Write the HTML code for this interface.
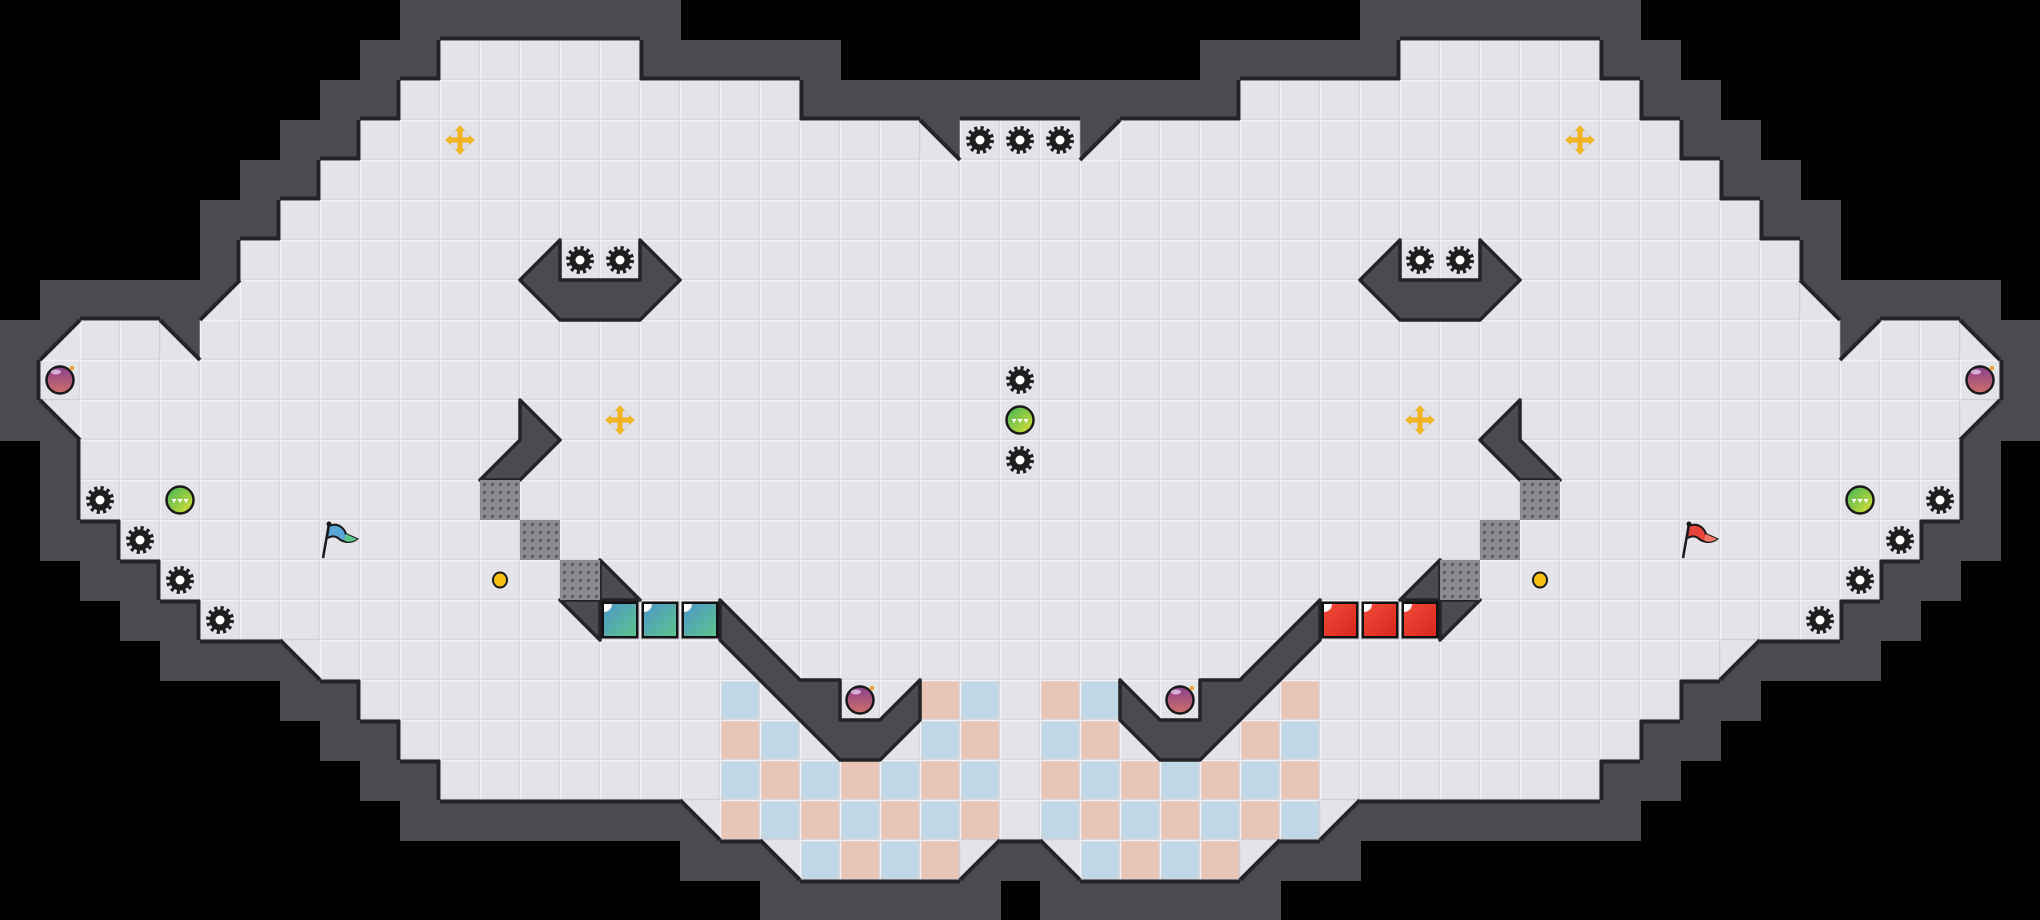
<!DOCTYPE html>
<html><head><meta charset="utf-8"><style>
html,body{margin:0;padding:0;background:#000;width:2040px;height:920px;overflow:hidden}
svg{display:block}
</style></head><body>
<svg id="s" width="2040" height="920" viewBox="0 0 2040 920" xmlns="http://www.w3.org/2000/svg">
<defs>
<linearGradient id="teal" x1="0" y1="0" x2="1" y2="1"><stop offset="0" stop-color="#4f96c8"/><stop offset="1" stop-color="#5cc48c"/></linearGradient>
<linearGradient id="red" x1="0" y1="0" x2="1" y2="1"><stop offset="0" stop-color="#f04a3a"/><stop offset="1" stop-color="#d8281f"/></linearGradient>
<linearGradient id="grn" x1="0" y1="0" x2="1" y2="1"><stop offset="0" stop-color="#3cb45a"/><stop offset="1" stop-color="#e0e030"/></linearGradient>
<linearGradient id="pur" x1="0" y1="0" x2="0" y2="1"><stop offset="0" stop-color="#8a3f8c"/><stop offset="1" stop-color="#d0706a"/></linearGradient>
<pattern id="grate" width="8" height="8" patternUnits="userSpaceOnUse"><rect width="8" height="8" fill="#8c8c90"/><rect x="3" y="3" width="3" height="3" fill="#5e5e62"/></pattern>
</defs>
<rect width="2040" height="920" fill="#000"/>
<g id="g"></g>
</svg>
<script>
var T=40,W=51,H=23;
var F=[];for(var r=0;r<H;r++){F.push([]);for(var c=0;c<W;c++)F[r].push(0);}
function rng(r,a,b){for(var c=a;c<=b;c++)F[r][c]=1;}
var rows={1:[[11,15],[35,39]],2:[[10,19],[31,40]],3:[[9,22],[24,26],[28,41]],4:[[8,42]],5:[[7,43]],6:[[6,44]],7:[[6,44]],
8:[[2,3],[5,45],[47,48]],9:[[1,49]],10:[[2,48]],11:[[2,48]],12:[[2,48]],13:[[3,47]],14:[[4,46]],15:[[5,45]],16:[[8,42]],
17:[[9,41]],18:[[10,40]],19:[[11,39]],20:[[18,32]],21:[[20,23],[27,30]]};
for(var k in rows)rows[k].forEach(function(p){rng(+k,p[0],p[1]);});
var tris=[[3,23,'LL'],[3,27,'LR'],[7,5,'LR'],[7,45,'LL'],[8,1,'LR'],[8,4,'LL'],[8,46,'LR'],[8,49,'LL'],[10,1,'UR'],[10,49,'UL'],
[16,7,'UR'],[16,43,'UL'],[20,17,'UR'],[20,33,'UL'],[21,19,'UR'],[21,24,'UL'],[21,26,'UR'],[21,31,'UL']];
var T2={};tris.forEach(function(t){T2[t[0]+','+t[1]]=1;});
var o='';
var WALL='#4b4a50',EDGE='#242327';
for(var r=0;r<H;r++)for(var c=0;c<W;c++){
 if(F[r][c])continue;var w=0;
 for(var dr=-1;dr<=1;dr++)for(var dc=-1;dc<=1;dc++){var rr=r+dr,cc=c+dc;
  if(rr>=0&&rr<H&&cc>=0&&cc<W){if(F[rr][cc])w=1;else if(T2[rr+','+cc]&&(dr==0||dc==0))w=1;}}
 if(r==22&&c==25)w=0;
 if(w)o+='<rect x="'+(c*T)+'" y="'+(r*T)+'" width="41" height="41" fill="'+WALL+'"/>';
}
var FL='#e3e3e8';
for(var r=0;r<H;r++)for(var c=0;c<W;c++)if(F[r][c]){
 o+='<rect x="'+(c*T)+'" y="'+(r*T)+'" width="40" height="40" fill="'+FL+'"/>';
}
function triPts(r,c,k){var x=c*T,y=r*T,X=x+T,Y=y+T;
 if(k=='LL')return x+','+y+' '+x+','+Y+' '+X+','+Y;
 if(k=='LR')return X+','+y+' '+X+','+Y+' '+x+','+Y;
 if(k=='UL')return x+','+y+' '+X+','+y+' '+x+','+Y;
 return x+','+y+' '+X+','+y+' '+X+','+Y;}
tris.forEach(function(t){o+='<polygon points="'+triPts(t[0],t[1],t[2])+'" fill="'+FL+'"/>';});
var chk={17:[18,23,24,26,27,32],18:[18,19,23,24,26,27,31,32],19:[18,19,20,21,22,23,24,26,27,28,29,30,31,32],
20:[18,19,20,21,22,23,24,26,27,28,29,30,31,32],21:[20,21,22,23,27,28,29,30]};
for(var k in chk)chk[k].forEach(function(c){var r=+k;var odd=(r+c)%2==1;var blue=c<25?odd:!odd;
 o+='<rect x="'+(c*T)+'" y="'+(r*T)+'" width="40" height="40" fill="'+(blue?'#c2d7e6':'#e8c5b7')+'"/>';});
for(var r=0;r<H;r++)for(var c=0;c<W;c++)if(F[r][c]){var x=c*T,y=r*T;
 o+='<path d="M'+(x+0.5)+' '+(y+39.5)+'V'+(y+0.5)+'H'+(x+39.5)+'" stroke="#f2f2f5" stroke-width="1.5" fill="none"/>';
 o+='<path d="M'+(x+39.5)+' '+(y+0.5)+'V'+(y+39.5)+'H'+(x+0.5)+'" stroke="#cfcfd5" stroke-width="1.5" fill="none"/>';}
for(var r=0;r<H;r++)for(var c=0;c<W;c++)if(F[r][c]){var x=c*T,y=r*T;
 function nf(rr,cc){return !(rr>=0&&rr<H&&cc>=0&&cc<W&&(F[rr][cc]||T2[rr+','+cc]));}
 if(nf(r-1,c))o+='<line x1="'+x+'" y1="'+(y-1.5)+'" x2="'+(x+40)+'" y2="'+(y-1.5)+'" stroke="'+EDGE+'" stroke-width="4"/>';
 if(nf(r+1,c))o+='<line x1="'+x+'" y1="'+(y+41.5)+'" x2="'+(x+40)+'" y2="'+(y+41.5)+'" stroke="'+EDGE+'" stroke-width="4"/>';
 if(nf(r,c-1))o+='<line x1="'+(x-1.5)+'" y1="'+y+'" x2="'+(x-1.5)+'" y2="'+(y+40)+'" stroke="'+EDGE+'" stroke-width="4"/>';
 if(nf(r,c+1))o+='<line x1="'+(x+41.5)+'" y1="'+y+'" x2="'+(x+41.5)+'" y2="'+(y+40)+'" stroke="'+EDGE+'" stroke-width="4"/>';}
tris.forEach(function(t){var x=t[1]*T,y=t[0]*T,k=t[2];var a,b;
 if(k=='LL'||k=='UR'){a=[x,y];b=[x+40,y+40];}else{a=[x+40,y];b=[x,y+40];}
 o+='<line x1="'+a[0]+'" y1="'+a[1]+'" x2="'+b[0]+'" y2="'+b[1]+'" stroke="'+EDGE+'" stroke-width="4"/>';});
function poly(p){var s=p.map(function(q){return q[0]+','+q[1];}).join(' ');var m=p.map(function(q){return (2040-q[0])+','+q[1];}).join(' ');
 o+='<polygon points="'+s+'" fill="'+WALL+'" stroke="'+EDGE+'" stroke-width="3.5" stroke-linejoin="round"/>';
 o+='<polygon points="'+m+'" fill="'+WALL+'" stroke="'+EDGE+'" stroke-width="3.5" stroke-linejoin="round"/>';}
poly([[520,280],[560,240],[560,280],[640,280],[640,240],[680,280],[640,320],[560,320]]);
poly([[520,400],[560,440],[520,480],[480,480],[520,440]]);
poly([[600,560],[640,600],[600,600]]);
poly([[560,600],[600,600],[600,640]]);
poly([[720,600],[800,680],[840,680],[840,720],[880,720],[920,680],[920,720],[880,760],[840,760],[720,640]]);
function cx(c){return c*T+20;}function cy(r){return r*T+20;}
function saw(c,r){var x=cx(c),y=cy(r);
 o+='<circle cx="'+x+'" cy="'+y+'" r="10.5" fill="#1e1e20"/><circle cx="'+x+'" cy="'+y+'" r="12" fill="none" stroke="#1e1e20" stroke-width="4" stroke-dasharray="3.1 3.2"/><circle cx="'+x+'" cy="'+y+'" r="4.5" fill="#fff"/>';}
function ball(c,r){var x=cx(c),y=cy(r);
 o+='<circle cx="'+x+'" cy="'+y+'" r="13.5" fill="url(#grn)" stroke="#1a1a1a" stroke-width="2.5"/>';
 for(var i=-1;i<=1;i++)o+='<polygon points="'+(x+i*6-2.5)+','+(y-1)+' '+(x+i*6+2.5)+','+(y-1)+' '+(x+i*6)+','+(y+3)+'" fill="#fff"/>';}
function bomb(c,r){var x=cx(c),y=cy(r);
 o+='<circle cx="'+x+'" cy="'+y+'" r="13.5" fill="url(#pur)" stroke="#1a1a1a" stroke-width="2.5"/><circle cx="'+(x+12)+'" cy="'+(y-12)+'" r="2" fill="#f0a020"/><ellipse cx="'+(x-4)+'" cy="'+(y-8)+'" rx="5" ry="2.5" fill="#e8c8ec" opacity=".8"/>';}
function cross(c,r){var x=cx(c),y=cy(r);
 o+='<circle cx="'+x+'" cy="'+y+'" r="12" fill="#d8d8dc" opacity=".6"/>';
 o+='<rect x="'+(x-2.5)+'" y="'+(y-11)+'" width="5" height="22" fill="#f2b320"/><rect x="'+(x-11)+'" y="'+(y-2.5)+'" width="22" height="5" fill="#f2b320"/>';
 o+='<polygon points="'+x+','+(y-15)+' '+(x-5)+','+(y-9)+' '+(x+5)+','+(y-9)+'" fill="#f2b320"/><polygon points="'+x+','+(y+15)+' '+(x-5)+','+(y+9)+' '+(x+5)+','+(y+9)+'" fill="#f2b320"/>';
 o+='<polygon points="'+(x-15)+','+y+' '+(x-9)+','+(y-5)+' '+(x-9)+','+(y+5)+'" fill="#f2b320"/><polygon points="'+(x+15)+','+y+' '+(x+9)+','+(y-5)+' '+(x+9)+','+(y+5)+'" fill="#f2b320"/>';}
function dot(c,r){o+='<ellipse cx="'+cx(c)+'" cy="'+cy(r)+'" rx="7" ry="7.5" fill="#f5c010" stroke="#1a1a1a" stroke-width="2"/>';}
function flag(c,r,col,col2){var x=c*T,y=r*T;
 o+='<line x1="'+(x+3)+'" y1="'+(y+38)+'" x2="'+(x+9)+'" y2="'+(y+4)+'" stroke="#1a1a1a" stroke-width="2.5"/><circle cx="'+(x+9)+'" cy="'+(y+4)+'" r="2.5" fill="#1a1a1a"/>';
 o+='<path d="M'+(x+9)+' '+(y+6)+' C'+(x+18)+' '+(y+2)+' '+(x+24)+' '+(y+8)+' '+(x+26)+' '+(y+14)+' L'+(x+37)+' '+(y+19)+' C'+(x+30)+' '+(y+24)+' '+(x+22)+' '+(y+22)+' '+(x+18)+' '+(y+18)+' C'+(x+14)+' '+(y+15)+' '+(x+10)+' '+(y+17)+' '+(x+7)+' '+(y+18)+' Z" fill="'+col+'" stroke="#1a1a1a" stroke-width="2"/>';
 o+='<path d="M'+(x+26)+' '+(y+14)+' L'+(x+37)+' '+(y+19)+' C'+(x+31)+' '+(y+23)+' '+(x+26)+' '+(y+22)+' '+(x+24)+' '+(y+20)+' Z" fill="'+col2+'"/>';}
function block(c,r,g){var x=c*T,y=r*T;
 o+='<rect x="'+(x+1.5)+'" y="'+(y+1.5)+'" width="37" height="37" fill="#111"/><rect x="'+(x+4)+'" y="'+(y+4)+'" width="32" height="32" fill="url(#'+g+')"/><path d="M'+(x+4)+' '+(y+4)+'h8a8 8 0 0 1 -8 8z" fill="#fff"/>';}
function grate(c,r){o+='<rect x="'+(c*T)+'" y="'+(r*T)+'" width="40" height="40" fill="url(#grate)"/>';}
[[24,3],[25,3],[26,3],[14,6],[15,6],[35,6],[36,6],[25,9],[25,11],[2,12],[3,13],[4,14],[5,15],[48,12],[47,13],[46,14],[45,15]].forEach(function(p){saw(p[0],p[1]);});
ball(25,10);ball(4,12);ball(46,12);
bomb(1,9);bomb(49,9);bomb(21,17);bomb(29,17);
cross(11,3);cross(39,3);cross(15,10);cross(35,10);
dot(12,14);dot(38,14);
grate(12,12);grate(13,13);grate(14,14);grate(38,12);grate(37,13);grate(36,14);
block(15,15,'teal');block(16,15,'teal');block(17,15,'teal');
block(33,15,'red');block(34,15,'red');block(35,15,'red');
flag(8,13,'#5aa6d8','#5cc48c');flag(42,13,'#e8443a','#f07868');
document.getElementById('g').innerHTML=o;
</script>
</body></html>
